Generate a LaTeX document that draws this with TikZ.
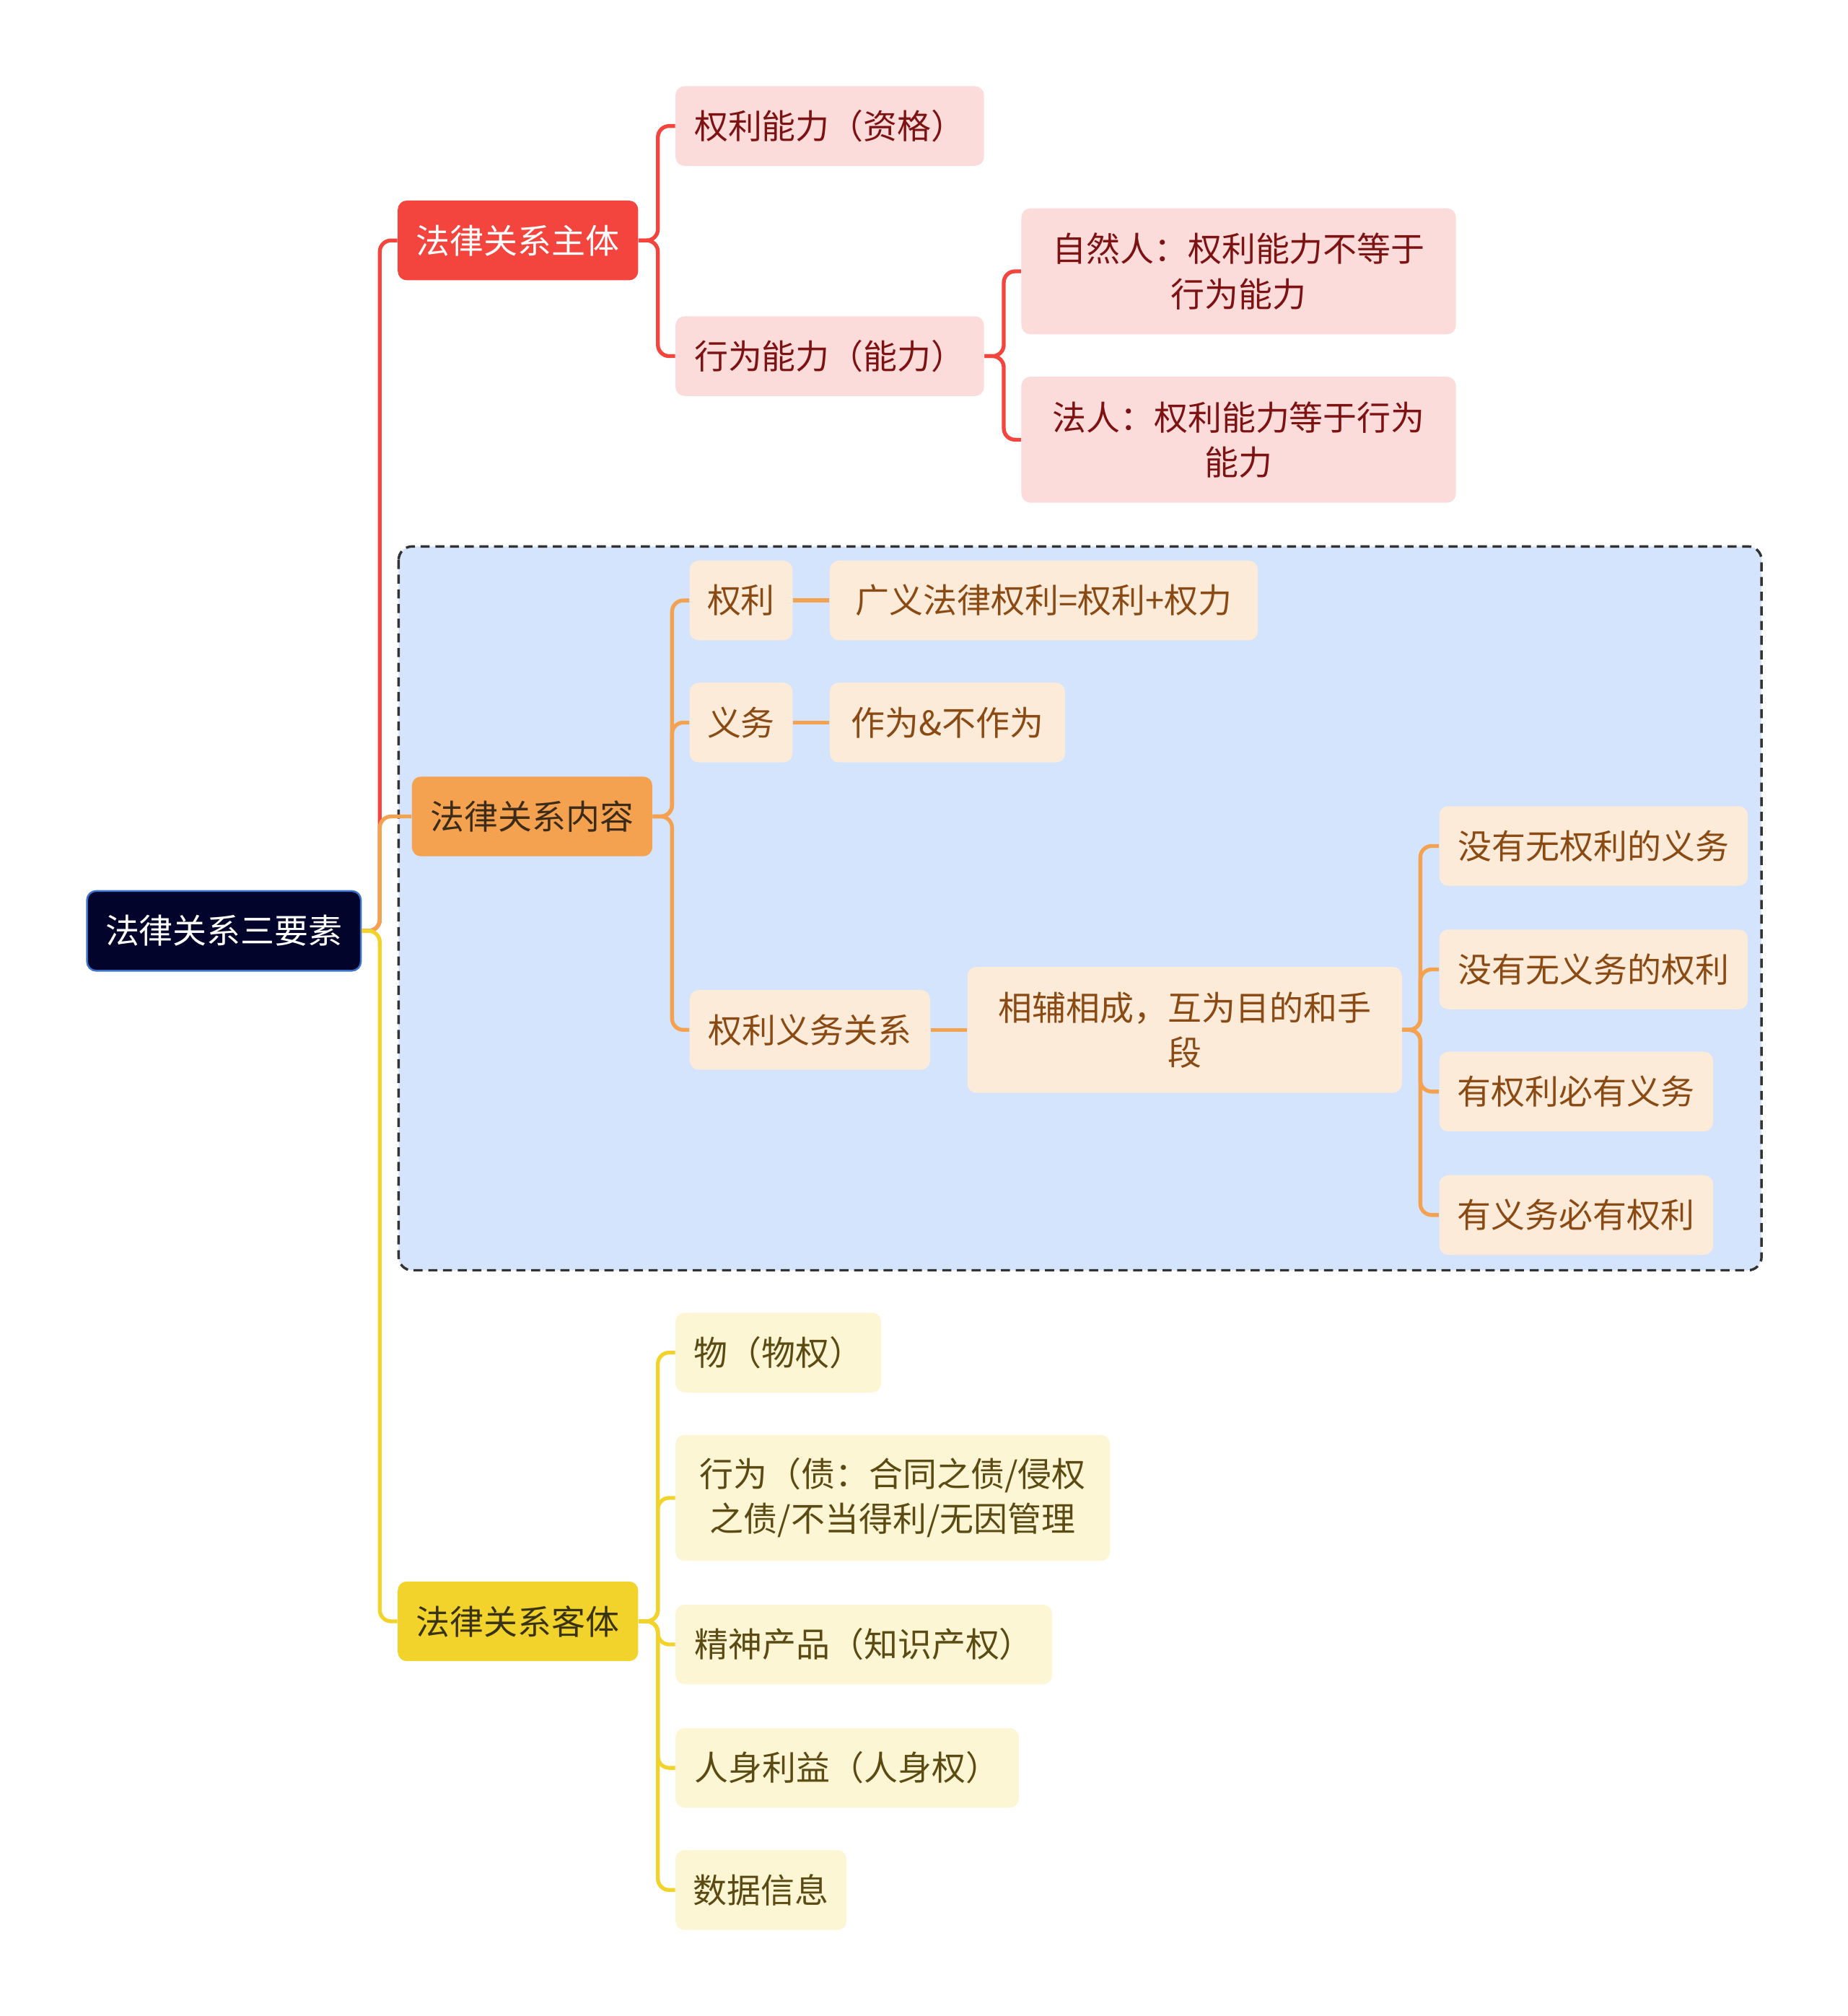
\documentclass[tikz,border=0pt]{standalone}
\usepackage{fontspec}
\setmainfont{Noto Sans CJK SC}
\definecolor{cRoot}{HTML}{02042B}
\definecolor{cRootEdge}{HTML}{3B72C9}
\definecolor{cRed}{HTML}{F4443E}
\definecolor{cRedSoft}{HTML}{FCDBDB}
\definecolor{cRedText}{HTML}{7D1212}
\definecolor{cOrange}{HTML}{F4A250}
\definecolor{cOrangeSoft}{HTML}{FDEBDA}
\definecolor{cOrangeText}{HTML}{8A4A14}
\definecolor{cOrangeDark}{HTML}{3D2B1A}
\definecolor{cYellow}{HTML}{F1D32C}
\definecolor{cYellowSoft}{HTML}{FCF6D5}
\definecolor{cYellowText}{HTML}{5B4A12}
\definecolor{cYellowDark}{HTML}{3A3214}
\definecolor{cArea}{HTML}{D4E4FC}
\definecolor{cDash}{HTML}{333333}
\tikzset{
  box/.style={rounded corners=4pt, minimum height=1.24cm, inner xsep=0.15cm,
    inner ysep=0pt, align=center, anchor=west, font=\fontsize{15}{19.9}\selectfont},
  tall/.style={minimum height=1.96cm},
  rootbox/.style={box, fill=cRoot, draw=cRootEdge, line width=0.8pt, text=white},
  redmain/.style={box, fill=cRed, text=white},
  redsub/.style={box, fill=cRedSoft, text=cRedText},
  orangemain/.style={box, fill=cOrange, text=cOrangeDark},
  orangesub/.style={box, fill=cOrangeSoft, text=cOrangeText},
  yellowmain/.style={box, fill=cYellow, text=cYellowDark},
  yellowsub/.style={box, fill=cYellowSoft, text=cYellowText},
  link/.style={line width=1.7pt, rounded corners=5pt},
  redlink/.style={link, draw=cRed},
  orangelink/.style={link, draw=cOrange},
  yellowlink/.style={link, draw=cYellow},
  area/.style={fill=cArea, draw=cDash, line width=1.1pt, rounded corners=6pt,
    dash pattern=on 4pt off 2.5pt},
}

\begin{document}
\begin{tikzpicture}[x=0.02cm, y=-0.02cm]
  \useasboundingbox (0,0) rectangle (1437,1568);
  % area behind the content branch
  \draw[area] (310,425) rectangle (1370,988);

  % nodes
  \node[rootbox, minimum width=4.26cm] (root) at (67,724) {法律关系三要素};

  \node[redmain, minimum width=3.74cm] (zhuti) at (309,187) {法律关系主体};
  \node[redsub, minimum width=4.8cm] (quanlinengli) at (525,98) {权利能力（资格）};
  \node[redsub, minimum width=4.8cm] (xingweinengli) at (525,277) {行为能力（能力）};
  \node[redsub, tall, minimum width=6.76cm] (ziranren) at (794,211) {自然人：权利能力不等于\\行为能力};
  \node[redsub, tall, minimum width=6.76cm] (faren) at (794,342) {法人：权利能力等于行为\\能力};

  \node[orangemain, minimum width=3.74cm] (neirong) at (320,635) {法律关系内容};
  \node[orangesub, minimum width=1.6cm] (quanli) at (536,467) {权利};
  \node[orangesub, minimum width=6.66cm] (guangyi) at (645,467) {广义法律权利=权利+权力};
  \node[orangesub, minimum width=1.6cm] (yiwu) at (536,562) {义务};
  \node[orangesub, minimum width=3.66cm] (zuowei) at (645,562) {作为\&不作为};
  \node[orangesub, minimum width=3.74cm] (guanxi) at (536,801) {权利义务关系};
  \node[orangesub, tall, minimum width=6.76cm] (xiangfu) at (752,801) {相辅相成，互为目的和手\\段};
  \node[orangesub, minimum width=4.8cm] (meiyou1) at (1119,658) {没有无权利的义务};
  \node[orangesub, minimum width=4.8cm] (meiyou2) at (1119,754) {没有无义务的权利};
  \node[orangesub, minimum width=4.26cm] (youbi1) at (1119,849) {有权利必有义务};
  \node[orangesub, minimum width=4.26cm] (youbi2) at (1119,945) {有义务必有权利};

  \node[yellowmain, minimum width=3.74cm] (keti) at (309,1261) {法律关系客体};
  \node[yellowsub, minimum width=3.2cm] (wu) at (525,1052) {物（物权）};
  \node[yellowsub, tall, minimum width=6.76cm] (xingwei) at (525,1165) {行为（债：合同之债/侵权\\之债/不当得利/无因管理};
  \node[yellowsub, minimum width=5.86cm] (jingshen) at (525,1279) {精神产品（知识产权）};
  \node[yellowsub, minimum width=5.34cm] (renshen) at (525,1375) {人身利益（人身权）};
  \node[yellowsub, minimum width=2.66cm] (shuju) at (525,1470) {数据信息};

  % branches
  \draw[redlink] (root.east) -- ++(14,0) |- (zhuti.west);
  \draw[orangelink] (root.east) -- ++(14,0) |- (neirong.west);
  \draw[yellowlink] (root.east) -- ++(14,0) |- (keti.west);

  \draw[redlink] (zhuti.east) -- ++(15,0) |- (quanlinengli.west);
  \draw[redlink] (zhuti.east) -- ++(15,0) |- (xingweinengli.west);
  \draw[redlink] (xingweinengli.east) -- ++(15,0) |- (ziranren.west);
  \draw[redlink] (xingweinengli.east) -- ++(15,0) |- (faren.west);

  \draw[orangelink] (neirong.east) -- ++(15,0) |- (quanli.west);
  \draw[orangelink] (neirong.east) -- ++(15,0) |- (yiwu.west);
  \draw[orangelink] (neirong.east) -- ++(15,0) |- (guanxi.west);
  \draw[orangelink] (quanli.east) -- (guangyi.west);
  \draw[orangelink] (yiwu.east) -- (zuowei.west);
  \draw[orangelink] (guanxi.east) -- (xiangfu.west);
  \draw[orangelink] (xiangfu.east) -- ++(14,0) |- (meiyou1.west);
  \draw[orangelink] (xiangfu.east) -- ++(14,0) |- (meiyou2.west);
  \draw[orangelink] (xiangfu.east) -- ++(14,0) |- (youbi1.west);
  \draw[orangelink] (xiangfu.east) -- ++(14,0) |- (youbi2.west);

  \draw[yellowlink] (keti.east) -- ++(15,0) |- (wu.west);
  \draw[yellowlink] (keti.east) -- ++(15,0) |- (xingwei.west);
  \draw[yellowlink] (keti.east) -- ++(15,0) |- (jingshen.west);
  \draw[yellowlink] (keti.east) -- ++(15,0) |- (renshen.west);
  \draw[yellowlink] (keti.east) -- ++(15,0) |- (shuju.west);
\end{tikzpicture}
\end{document}
